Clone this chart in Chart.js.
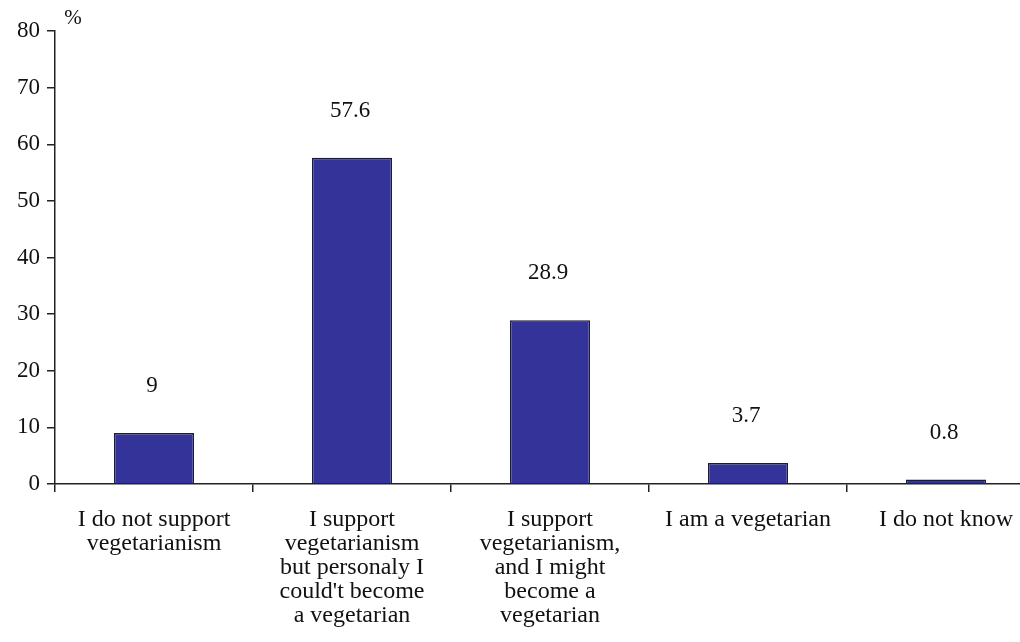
<!DOCTYPE html>
<html>
<head>
<meta charset="utf-8">
<script src="https://cdn.jsdelivr.net/npm/chart.js@4"></script>
<style>
    html,body{ margin:0; padding:0; background:#fff; overflow:hidden; }
    #wrap{ width:1060px; height:642px; }
</style>
</head>
<body>
<div id="wrap"><canvas id="vegChart" width="1060" height="642"></canvas></div>
<script>

// ======================================
// Data
// ======================================

const categories = [
    ["I do not support","vegetarianism"],
    ["I support","vegetarianism","but personaly I","could't become","a vegetarian"],
    ["I support","vegetarianism,","and I might","become a","vegetarian"],
    ["I am a vegetarian"],
    ["I do not know"]
];

const percents = [9, 57.6, 28.9, 3.7, 0.8];

const valueLabels = ["9", "57.6", "28.9", "3.7", "0.8"];

const yTicks = [0, 10, 20, 30, 40, 50, 60, 70, 80];

const unitLabel = "%";

const serif = "'Times New Roman', 'Liberation Serif', serif";

// ======================================
// Plugin: value labels + unit
// ======================================

const labelPlugin = {

    id:"labelPlugin",

    afterDatasetsDraw(chart){

        const ctx = chart.ctx;
        const meta = chart.getDatasetMeta(0);

        ctx.save();
        ctx.fillStyle = "#111";
        ctx.font = "23px " + serif;
        ctx.textAlign = "center";
        ctx.textBaseline = "middle";

        meta.data.forEach((bar,i)=>{
            ctx.fillText(valueLabels[i], bar.x - 2, bar.y - 47);
        });

        ctx.font = "21px " + serif;
        ctx.fillText(unitLabel, chart.chartArea.left + 18, chart.chartArea.top - 13);

        ctx.restore();

    }

};

// ======================================
// Chart
// ======================================

const ctx = document.getElementById("vegChart");

new Chart(ctx,{

    type:"bar",

    data:{

        labels:categories,

        datasets:[{

            data:percents,

            backgroundColor:"#333399",

            borderColor:"#1a1a46",

            borderWidth:1.5,

            barPercentage:1,

            categoryPercentage:0.404

        }]

    },

    options:{

        responsive:false,

        animation:false,

        layout:{
            padding:{ top:31, right:15, left:0, bottom:0 }
        },

        plugins:{
            legend:{ display:false },
            tooltip:{ enabled:false }
        },

        scales:{

            x:{

                grid:{
                    offset:true,
                    drawOnChartArea:false,
                    tickLength:8,
                    color:"#222",
                    lineWidth:1.5
                },

                border:{ color:"#222", width:1.5 },

                ticks:{
                    autoSkip:false,
                    maxRotation:0,
                    padding:16,
                    color:"#111",
                    font:{ family:serif, size:24, lineHeight:1.0 }
                },

                afterFit(scale){ scale.height = 158; }

            },

            y:{

                min:0,

                max:80,

                afterBuildTicks(scale){
                    scale.ticks = yTicks.map(v=>({ value:v }));
                },

                grid:{
                    drawOnChartArea:false,
                    tickLength:8,
                    color:"#222",
                    lineWidth:1.5
                },

                border:{ color:"#222", width:1.5 },

                ticks:{
                    padding:7,
                    color:"#111",
                    font:{ family:serif, size:23 }
                },

                afterFit(scale){ scale.width = 55; }

            }

        }

    },

    plugins:[labelPlugin]

});

</script>
</body>
</html>
